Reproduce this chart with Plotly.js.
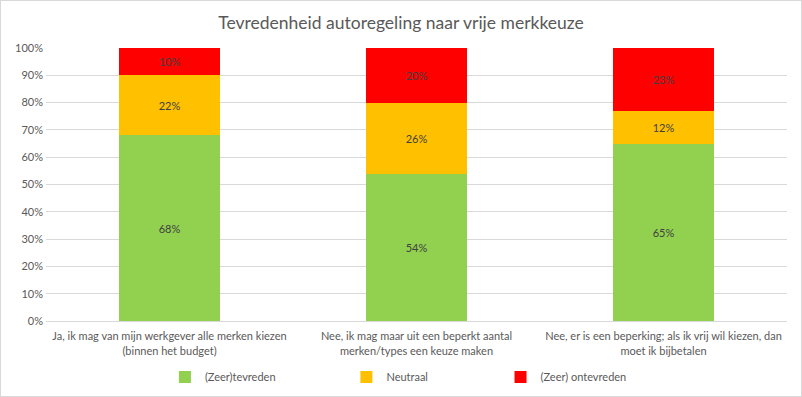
<!DOCTYPE html>
<html>
<head>
<meta charset="utf-8">
<script src="https://cdn.plot.ly/plotly-3.0.1.min.js"></script>
<style>
html,body{margin:0;padding:0;background:#fff;}
#chart{width:800px;height:395px;border:1px solid #d9d9d9;}
</style>
</head>
<body>
<div id="chart"></div>
<script>
const categories = [
  "Ja, ik mag van mijn werkgever alle merken kiezen<br>(binnen het budget)",
  "Nee, ik mag maar uit een beperkt aantal<br>merken/types een keuze maken",
  "Nee, er is een beperking; als ik vrij wil kiezen, dan<br>moet ik bijbetalen"
];
const seriesNames = ["(Zeer)tevreden", "Neutraal", "(Zeer) ontevreden"];
const tevreden = [68, 54, 65];
const neutraal = [22, 26, 12];
const ontevreden = [10, 20, 23];
const yTickVals = [0,10,20,30,40,50,60,70,80,90,100];
const yTickText = ["0%","10%","20%","30%","40%","50%","60%","70%","80%","90%","100%"];

const colors = ["#92d050", "#ffc000", "#ff0000"];
const values = [tevreden, neutraal, ontevreden];
const legendIds = ["legend", "legend2", "legend3"];
const legendX = [0.1605, 0.4054, 0.6134];
const font = "Lato, 'Open Sans', sans-serif";

const traces = values.map((v, i) => ({
  type: "bar",
  name: seriesNames[i],
  x: categories,
  y: v,
  text: v.map(n => n + "%"),
  textposition: "inside",
  insidetextanchor: "middle",
  textangle: 0,
  textfont: {color: "#404040", size: 11, family: font},
  marker: {color: colors[i]},
  legend: legendIds[i],
  hoverinfo: "skip"
}));

const legendBase = (x) => ({
  orientation: "h", x: x, xanchor: "left",
  y: -0.205, yanchor: "middle",
  font: {size: 11, color: "#595959"},
  itemwidth: 30,
  bgcolor: "rgba(0,0,0,0)"
});

const layout = {
  width: 800, height: 395,
  margin: {l: 45, r: 14, t: 47, b: 75, autoexpand: false},
  paper_bgcolor: "#fff", plot_bgcolor: "#fff",
  barmode: "stack",
  bargap: 0.595,
  font: {family: font, color: "#595959", size: 11},
  title: {text: "Tevredenheid autoregeling naar vrije merkkeuze",
          font: {size: 17.5, color: "#595959", family: font},
          x: 0.5, xanchor: "center", y: 0.945, yanchor: "middle"},
  xaxis: {
    showline: true, linecolor: "#d9d9d9", linewidth: 1,
    ticks: "", tickfont: {size: 11, color: "#595959"},
    ticklabelstandoff: 5,
    automargin: false
  },
  yaxis: {
    range: [0, 100],
    tickvals: yTickVals, ticktext: yTickText,
    showgrid: true, gridcolor: "#d9d9d9", gridwidth: 1,
    zeroline: false, showline: false, ticks: "",
    tickfont: {size: 11, color: "#595959"},
    ticklabelstandoff: 2,
    automargin: false
  },
  showlegend: true,
  legend: legendBase(legendX[0]),
  legend2: legendBase(legendX[1]),
  legend3: legendBase(legendX[2])
};

Plotly.newPlot("chart", traces, layout, {displayModeBar: false, staticPlot: true});
</script>
</body>
</html>
